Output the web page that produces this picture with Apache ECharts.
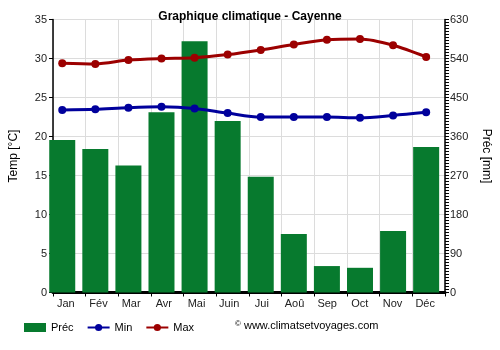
<!DOCTYPE html>
<html>
<head>
<meta charset="utf-8">
<script src="https://cdn.jsdelivr.net/npm/echarts@6/dist/echarts.min.js"></script>
<style>
  html, body { margin: 0; padding: 0; background: #fff; }
  #chart { width: 500px; height: 350px; }
</style>
</head>
<body>
<div id="chart"></div>
<script>
// Monthly climate data for Cayenne
const months = ['Jan', 'Fév', 'Mar', 'Avr', 'Mai', 'Juin', 'Jui', 'Aoû', 'Sep', 'Oct', 'Nov', 'Déc'];
const precip = [352, 331, 293, 416, 580, 396, 267, 135, 61, 57, 142, 336];
const tempMin = [23.4, 23.5, 23.7, 23.8, 23.6, 23.0, 22.5, 22.5, 22.5, 22.4, 22.7, 23.1];
const tempMax = [29.4, 29.3, 29.8, 30.0, 30.1, 30.5, 31.1, 31.8, 32.4, 32.5, 31.7, 30.2];
const tempTicks = [0, 5, 10, 15, 20, 25, 30, 35];
const precTicks = [0, 90, 180, 270, 360, 450, 540, 630];

const FONT = 'Liberation Sans, Arial, sans-serif';
const GREEN = '#077a2e';
const BLUE = '#00009c';
const RED = '#9c0000';

const tMin = tempTicks[0], tMax = tempTicks[tempTicks.length - 1];
const tStep = tempTicks[1] - tempTicks[0];
const pMin = precTicks[0], pMax = precTicks[precTicks.length - 1];
const pStep = precTicks[1] - precTicks[0];

const chart = echarts.init(document.getElementById('chart'), null, { renderer: 'canvas' });

const plotTop = 19.5, plotHeight = 273;

chart.setOption({
  animation: false,
  textStyle: { fontFamily: FONT },
  title: {
    text: 'Graphique climatique - Cayenne',
    left: 'center', top: 6,
    textStyle: { fontFamily: FONT, fontSize: 12, fontWeight: 'bold', color: '#000' }
  },
  legend: {
    left: 24, top: 322, padding: 0,
    itemWidth: 22, itemHeight: 9, itemGap: 13,
    textStyle: { fontFamily: FONT, fontSize: 11, color: '#000' },
    data: [
      { name: 'Préc', icon: 'rect' },
      { name: 'Min' },
      { name: 'Max' }
    ]
  },
  graphic: [{
    type: 'text', left: 235, top: 320,
    style: {
      text: '{c|©} www.climatsetvoyages.com',
      fontFamily: FONT, fontSize: 11, fill: '#000',
      rich: { c: { fontSize: 8, verticalAlign: 'top', padding: [0, 0, 4, 0] } }
    }
  }],
  grid: [
    // axes, grid lines and labels
    { left: 49, right: 54, top: plotTop, height: plotHeight },
    // marks: centred on the left part of each month slot
    { left: 45.7, right: 57.3, top: plotTop, height: plotHeight }
  ],
  xAxis: [
    {
      type: 'category', gridIndex: 0, data: months, boundaryGap: true,
      axisLine: { lineStyle: { color: '#000', width: 3 } },
      axisTick: { show: true, length: 4, lineStyle: { color: '#000', width: 1 } },
      axisLabel: { color: '#222', fontSize: 11, margin: 6, padding: [0, 7, 0, 0], fontFamily: FONT },
      splitLine: { show: true, lineStyle: { color: '#dcdcdc', width: 1 } }
    },
    {
      type: 'category', gridIndex: 1, data: months, boundaryGap: true, show: false
    }
  ],
  yAxis: [
    {
      type: 'value', gridIndex: 0, min: tMin, max: tMax, interval: tStep,
      name: 'Temp [°C]', nameLocation: 'middle', nameGap: 33, nameRotate: 90,
      nameTextStyle: { fontFamily: FONT, fontSize: 12, color: '#000' },
      axisLine: { show: true, lineStyle: { color: '#000', width: 1.5 } },
      axisTick: { show: true, length: 4, lineStyle: { color: '#000' } },
      axisLabel: { color: '#222', fontSize: 11, margin: 6, fontFamily: FONT },
      splitLine: { show: true, lineStyle: { color: '#dcdcdc', width: 1 } }
    },
    {
      type: 'value', gridIndex: 0, position: 'right', min: pMin, max: pMax, interval: pStep,
      name: 'Préc [mm]', nameLocation: 'middle', nameGap: 35, nameRotate: -90,
      nameTextStyle: { fontFamily: FONT, fontSize: 12, color: '#000' },
      axisLine: { show: true, lineStyle: { color: '#000', width: 1.5 } },
      axisTick: { show: true, length: 4, lineStyle: { color: '#000' } },
      minorTick: { show: true, splitNumber: 13, length: 4, lineStyle: { color: '#000', width: 1 } },
      axisLabel: { color: '#222', fontSize: 11, margin: 5, fontFamily: FONT },
      splitLine: { show: false }
    },
    { type: 'value', gridIndex: 1, min: tMin, max: tMax, interval: tStep, show: false, splitLine: { show: false } },
    { type: 'value', gridIndex: 1, min: pMin, max: pMax, interval: pStep, show: false, splitLine: { show: false } }
  ],
  series: [
    {
      name: 'Préc', type: 'bar', xAxisIndex: 1, yAxisIndex: 3,
      data: precip, barWidth: 26,
      itemStyle: { color: GREEN }
    },
    {
      name: 'Min', type: 'line', xAxisIndex: 1, yAxisIndex: 2,
      data: tempMin, smooth: 0.3,
      symbol: 'circle', symbolSize: 8,
      lineStyle: { color: BLUE, width: 3 },
      itemStyle: { color: BLUE },
      z: 5
    },
    {
      name: 'Max', type: 'line', xAxisIndex: 1, yAxisIndex: 2,
      data: tempMax, smooth: 0.3,
      symbol: 'circle', symbolSize: 8,
      lineStyle: { color: RED, width: 3 },
      itemStyle: { color: RED },
      z: 5
    }
  ]
});
</script>
</body>
</html>
